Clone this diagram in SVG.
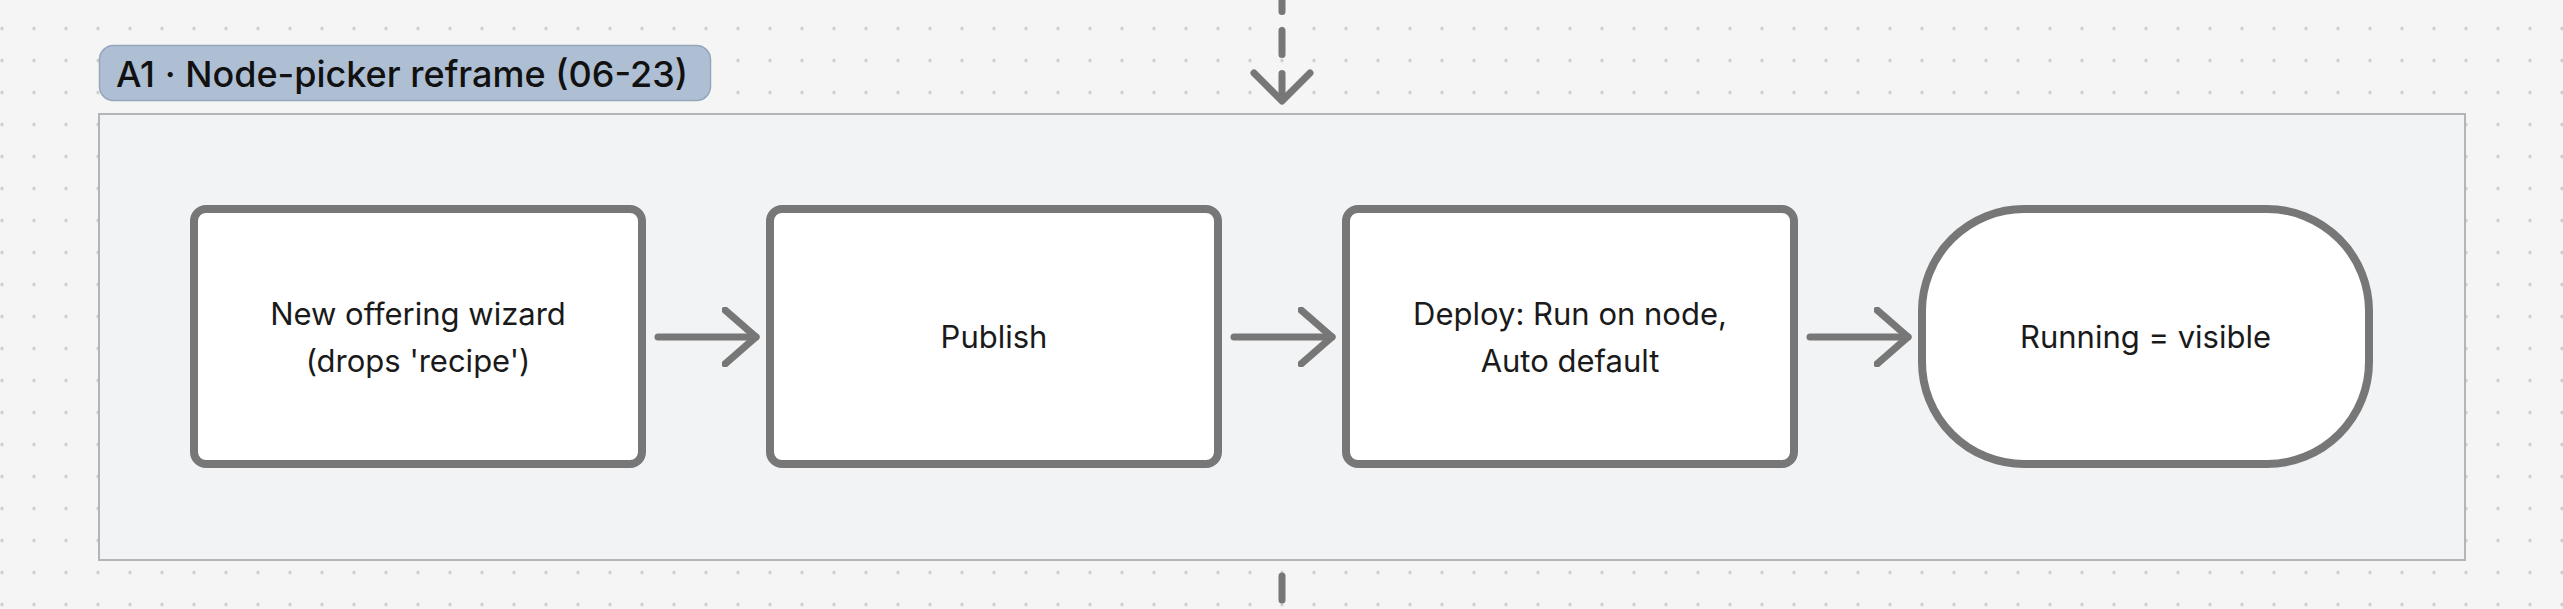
<svg xmlns="http://www.w3.org/2000/svg" width="2563" height="609" viewBox="0 0 2563 609">
  <defs>
    <pattern id="dots" x="-14" y="12.5" width="32" height="32" patternUnits="userSpaceOnUse">
      <circle cx="16" cy="16" r="1.7" fill="#c8c9ca"/>
    </pattern>
    <marker id="chev" viewBox="0 0 40 60" markerWidth="40" markerHeight="60" refX="34" refY="30" orient="auto" markerUnits="userSpaceOnUse">
      <path d="M3,3 L34,30 L3,57" fill="none" stroke="#777777" stroke-width="7" stroke-linecap="round" stroke-linejoin="round"/>
    </marker>
  </defs>
  <style>
    .bg { fill: #f5f5f5; }
    .frame { fill: #f2f3f4; stroke: #b3b5b7; stroke-width: 2; }
    .pill { fill: #afbfd3; stroke: #95a6bc; stroke-width: 1.5; }
    .pilltxt { font-family: Inter, "Liberation Sans", sans-serif; font-size: 36px; font-weight: 500; fill: #111111; }
    .node { fill: #ffffff; stroke: #777777; stroke-width: 8; }
    .txt { font-family: Inter, "Liberation Sans", sans-serif; font-size: 31px; fill: #1a1a1a; text-anchor: middle; }
    .edge { fill: none; stroke: #777777; stroke-width: 7; stroke-linecap: round; }
    .dash { stroke-dasharray: 24 19; }
  </style>
  <rect class="bg" x="0" y="0" width="2563" height="609"/>
  <rect x="0" y="0" width="2563" height="609" fill="url(#dots)"/>

  <g id="frame">
    <rect class="frame" x="99" y="114" width="2366" height="446"/>
    <rect class="pill" x="99.5" y="45.5" width="611" height="55" rx="14"/>
    <text class="pilltxt" x="116" y="87">A1 · Node-picker reframe (06-23)</text>
  </g>

  <g id="connectors">
    <path class="edge dash" d="M1282,-20 L1282,99" stroke-dashoffset="35.5"/>
    <path class="edge" d="M1254,73 L1282,101 L1310,73" stroke-linejoin="round"/>
    <path class="edge" d="M1282,576 L1282,600"/>
    <path class="edge" d="M658,337 L756,337" marker-end="url(#chev)"/>
    <path class="edge" d="M1234,337 L1332,337" marker-end="url(#chev)"/>
    <path class="edge" d="M1810,337 L1908,337" marker-end="url(#chev)"/>
  </g>

  <g id="node-wizard">
    <rect class="node" x="194" y="209" width="448" height="255" rx="12"/>
    <text class="txt" x="418" y="325">New offering wizard</text>
    <text class="txt" x="418" y="372">(drops 'recipe')</text>
  </g>
  <g id="node-publish">
    <rect class="node" x="770" y="209" width="448" height="255" rx="12"/>
    <text class="txt" x="994" y="348">Publish</text>
  </g>
  <g id="node-deploy">
    <rect class="node" x="1346" y="209" width="448" height="255" rx="12"/>
    <text class="txt" x="1570" y="325">Deploy: Run on node,</text>
    <text class="txt" x="1570" y="372">Auto default</text>
  </g>
  <g id="node-running">
    <rect class="node" x="1922" y="209" width="447" height="255" rx="102"/>
    <text class="txt" x="2145.5" y="348">Running = visible</text>
  </g>
</svg>
